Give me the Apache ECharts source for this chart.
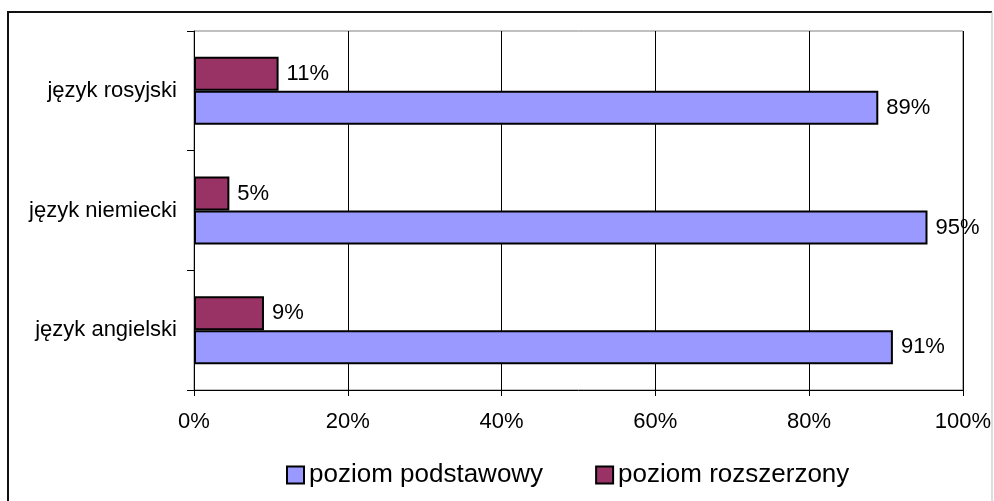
<!DOCTYPE html>
<html>
<head>
<meta charset="utf-8">
<script src="https://cdn.jsdelivr.net/npm/echarts@6/dist/echarts.min.js"></script>
<style>
html,body{margin:0;padding:0;background:#fff;}
#chart{width:994px;height:501px;}
</style>
</head>
<body>
<div id="chart"></div>
<script>
const categories = ['język angielski', 'język niemiecki', 'język rosyjski'];
const podstawowy = [90.9, 95.4, 89.0];
const rozszerzony = [9.1, 4.6, 11.0];
const seriesNames = ['poziom podstawowy', 'poziom rozszerzony'];
const xTicks = [0, 20, 40, 60, 80, 100];

const FONT = 'Liberation Sans, Arial, sans-serif';
const chart = echarts.init(document.getElementById('chart'), null, {renderer: 'canvas'});

const labelCfg = {
  show: true,
  position: 'right',
  distance: 8,
  color: '#000',
  fontFamily: FONT,
  fontSize: 22,
  formatter: p => Math.round(p.value) + '%'
};

chart.setOption({
  animation: false,
  backgroundColor: '#fff',
  graphic: [
    {type: 'polyline', shape: {points: [[8, 520], [8, 12], [992, 12]]}, style: {stroke: '#111', lineWidth: 2, fill: null}},
    {type: 'line', shape: {x1: 992, y1: 12, x2: 992, y2: 520}, style: {stroke: '#bbb', lineWidth: 1}}
  ],
  grid: {
    left: 194, right: 31, top: 31, bottom: 111,
    show: true, borderColor: '#808080', borderWidth: 1, backgroundColor: '#fff'
  },
  legend: {
    data: seriesNames,
    left: 281,
    top: 457,
    itemWidth: 17,
    itemHeight: 17,
    itemGap: 52,
    icon: 'rect',
    textStyle: {fontFamily: FONT, fontSize: 26, color: '#000'},
    itemStyle: {borderColor: '#000', borderWidth: 2}
  },
  xAxis: {
    type: 'value',
    min: xTicks[0], max: xTicks[xTicks.length - 1], interval: 20,
    axisLine: {show: true, lineStyle: {color: '#000', width: 1}},
    axisTick: {show: true, inside: false, length: 6, lineStyle: {color: '#000'}},
    splitLine: {show: true, lineStyle: {color: '#000', width: 1}},
    axisLabel: {formatter: '{value}%', margin: 21, color: '#000', fontFamily: FONT, fontSize: 22}
  },
  yAxis: {
    type: 'category',
    data: categories,
    axisLine: {show: true, lineStyle: {color: '#000', width: 1}},
    axisTick: {show: true, inside: false, length: 7, alignWithLabel: false, lineStyle: {color: '#000'}},
    splitLine: {show: false},
    axisLabel: {margin: 17, color: '#000', fontFamily: FONT, fontSize: 22}
  },
  series: [
    {
      name: seriesNames[1],
      type: 'bar',
      data: rozszerzony,
      barWidth: 34,
      barGap: '0%',
      itemStyle: {color: '#993366', borderColor: '#000', borderWidth: 2},
      label: labelCfg
    },
    {
      name: seriesNames[0],
      type: 'bar',
      data: podstawowy,
      barWidth: 34,
      barGap: '0%',
      itemStyle: {color: '#9999FF', borderColor: '#000', borderWidth: 2},
      label: labelCfg
    }
  ]
});
</script>
</body>
</html>
